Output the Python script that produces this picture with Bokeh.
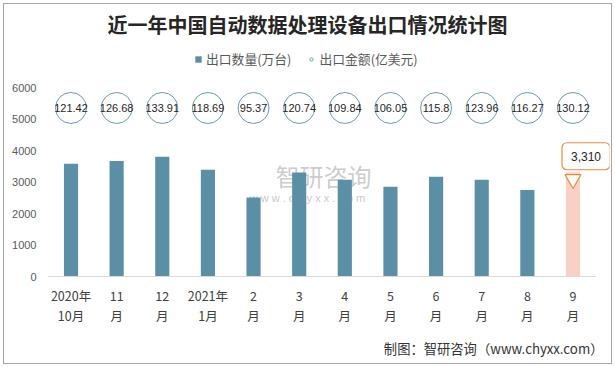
from bokeh.plotting import figure
from bokeh.models import (ColumnDataSource, FactorRange, Range1d, FixedTicker,
                          Label, LabelSet, Legend, LegendItem)
from bokeh.core.properties import value
from bokeh.embed import file_html
from bokeh.resources import INLINE

# ---------------- data ----------------
months = ["2020年10月", "11月", "12月", "2021年1月", "2月", "3月",
          "4月", "5月", "6月", "7月", "8月", "9月"]
tick_line1 = ["2020年", "11", "12", "2021年", "2", "3", "4", "5", "6", "7", "8", "9"]
tick_line2 = ["10月", "月", "月", "1月", "月", "月", "月", "月", "月", "月", "月", "月"]
quantity = [3580, 3670, 3800, 3390, 2510, 3300, 3070, 2850, 3170, 3070, 2750, 3310]  # 万台
amount = [121.42, 126.68, 133.91, 118.69, 95.37, 120.74, 109.84, 106.05,
          115.8, 123.96, 116.27, 130.12]  # 亿美元
y_ticks = [0, 1000, 2000, 3000, 4000, 5000, 6000]

title_text = "近一年中国自动数据处理设备出口情况统计图"
legend_q = "出口数量(万台)"
legend_a = "出口金额(亿美元)"
footer_text = "制图：智研咨询（www.chyxx.com）"

# ---------------- styles / layout ----------------
BAR = "#5B8FA6"
HIGHLIGHT = "#F8D0C4"
ORANGE = "#EA8D3A"
CIRCLE = "#6A9AB0"
CJK = "Noto Sans CJK SC"
NUM = "Liberation Sans"
W, H = 615, 367
PLOT_TOP, PLOT_BOTTOM = 87, 276      # pixel rows of 6000 and 0
Y_MAX = 6000
PAD = 0.3                            # side padding of the category range (in categories)
LEFT = 34                            # frame left edge
units_per_px = Y_MAX / (PLOT_BOTTOM - PLOT_TOP)
y_lo = -(H - PLOT_BOTTOM) * units_per_px
y_hi = Y_MAX + PLOT_TOP * units_per_px
circle_row = 5350                    # vertical placement of the amount bubbles

def sx(px):   # page x -> frame screen x
    return px - LEFT

def sy(py):   # page y -> frame screen y (upwards)
    return H - py

src = ColumnDataSource(dict(
    m=months,
    q=quantity,
    color=[HIGHLIGHT if i == len(months) - 1 else BAR for i in range(len(months))],
    cy=[circle_row] * len(months),
    atext=[str(a) for a in amount],
    t1=tick_line1,
    t2=tick_line2,
    zero=[0] * len(months),
))

p = figure(width=W, height=H,
           x_range=FactorRange(*months, range_padding=PAD, range_padding_units="absolute"),
           y_range=Range1d(y_lo, y_hi),
           output_backend="svg", toolbar_location=None,
           min_border_left=LEFT, min_border_right=6, min_border_top=0, min_border_bottom=0)
p.title.visible = False
p.background_fill_alpha = 0
p.border_fill_alpha = 0
p.outline_line_color = None
p.xgrid.visible = False
p.ygrid.visible = False
p.xaxis.visible = False
p.styles = {"outline": "1px solid #a6a6a6", "outline-offset": "-4px"}

# y axis
p.yaxis.ticker = FixedTicker(ticks=y_ticks)
p.yaxis.axis_line_color = None
p.yaxis.major_tick_line_color = None
p.yaxis.minor_tick_line_color = None
p.yaxis.major_label_text_font = NUM
p.yaxis.major_label_text_font_size = "11px"
p.yaxis.major_label_text_color = "#595959"
p.yaxis.major_label_standoff = -8

# watermark (under the bars)
p.add_layout(Label(x=sx(323), y=sy(175), x_units="screen", y_units="screen", text="智研咨询",
                   text_font=CJK, text_font_size="24px", text_color="#a0a0a0", text_alpha=0.55,
                   text_align="center", text_baseline="middle", level="underlay"))
p.add_layout(Label(x=sx(307), y=sy(197), x_units="screen", y_units="screen",
                   text="w w w . c h y x x . c o m",
                   text_font=NUM, text_font_size="11px", text_color="#a0a0a0", text_alpha=0.6,
                   text_align="center", text_baseline="middle", level="underlay"))

# bars
bars = p.vbar(x="m", top="q", bottom=0, width=0.31, source=src, fill_color="color", line_color=None)

# category axis line (spans the category band) and two-line category labels
p.segment(x0=[0], x1=[len(months)], y0=[0], y1=[0], line_color="#d9d9d9", line_width=1)
p.add_layout(LabelSet(x="m", y="zero", text="t1", source=src, y_offset=-19,
                      text_font=value(CJK), text_font_size="12.5px", text_color="#404040",
                      text_align="center", text_baseline="middle"))
p.add_layout(LabelSet(x="m", y="zero", text="t2", source=src, y_offset=-39,
                      text_font=value(CJK), text_font_size="12.5px", text_color="#404040",
                      text_align="center", text_baseline="middle"))

# amount bubbles
bubbles = p.scatter(x="m", y="cy", size=31, marker="circle", source=src,
                    fill_color="white", line_color=CIRCLE, line_width=1)
p.text(x="m", y="cy", text="atext", source=src, text_font=value(NUM), text_font_size="11px",
       text_color="#262626", text_align="center", text_baseline="middle")

# callout on the latest month
last = len(months) - 1
ptr_src = ColumnDataSource(dict(m=[months[last]], y=[quantity[last] - 7.0 * units_per_px]))
p.scatter(x="m", y="y", source=ptr_src, marker="inverted_triangle", size=16,
          fill_color="white", line_color=ORANGE, line_width=1.2)
p.add_layout(Label(x=last + 0.5, y=quantity[last], x_offset=13, y_offset=16,
                   text=f"{quantity[last]:,}", text_font=NUM, text_font_size="12px",
                   text_color="#262626", text_align="center", text_baseline="middle",
                   background_fill_color="white", border_line_color=ORANGE,
                   border_line_width=1.2, padding=9, border_radius=5))

# title and footer
p.add_layout(Label(x=sx(307), y=sy(24), x_units="screen", y_units="screen", text=title_text,
                   text_font=CJK, text_font_size="20px", text_font_style="bold",
                   text_color="#262626", text_align="center", text_baseline="middle"))
p.add_layout(Label(x=sx(603), y=sy(348), x_units="screen", y_units="screen", text=footer_text,
                   text_font=CJK, text_font_size="13.3px", text_color="#333333",
                   text_align="right", text_baseline="middle"))

# legend
legend = Legend(items=[LegendItem(label=legend_q, renderers=[bars], index=0),
                       LegendItem(label=legend_a, renderers=[bubbles], index=0)],
                orientation="horizontal", location=(sx(194), sy(68)),
                glyph_width=8, glyph_height=8, label_standoff=4, spacing=16,
                padding=0, margin=0, border_line_color=None, background_fill_alpha=0,
                label_text_font=CJK, label_text_font_size="12.8px", label_text_color="#595959",
                label_height=16)
p.add_layout(legend)

open("out.html", "w").write(file_html(p, INLINE))
